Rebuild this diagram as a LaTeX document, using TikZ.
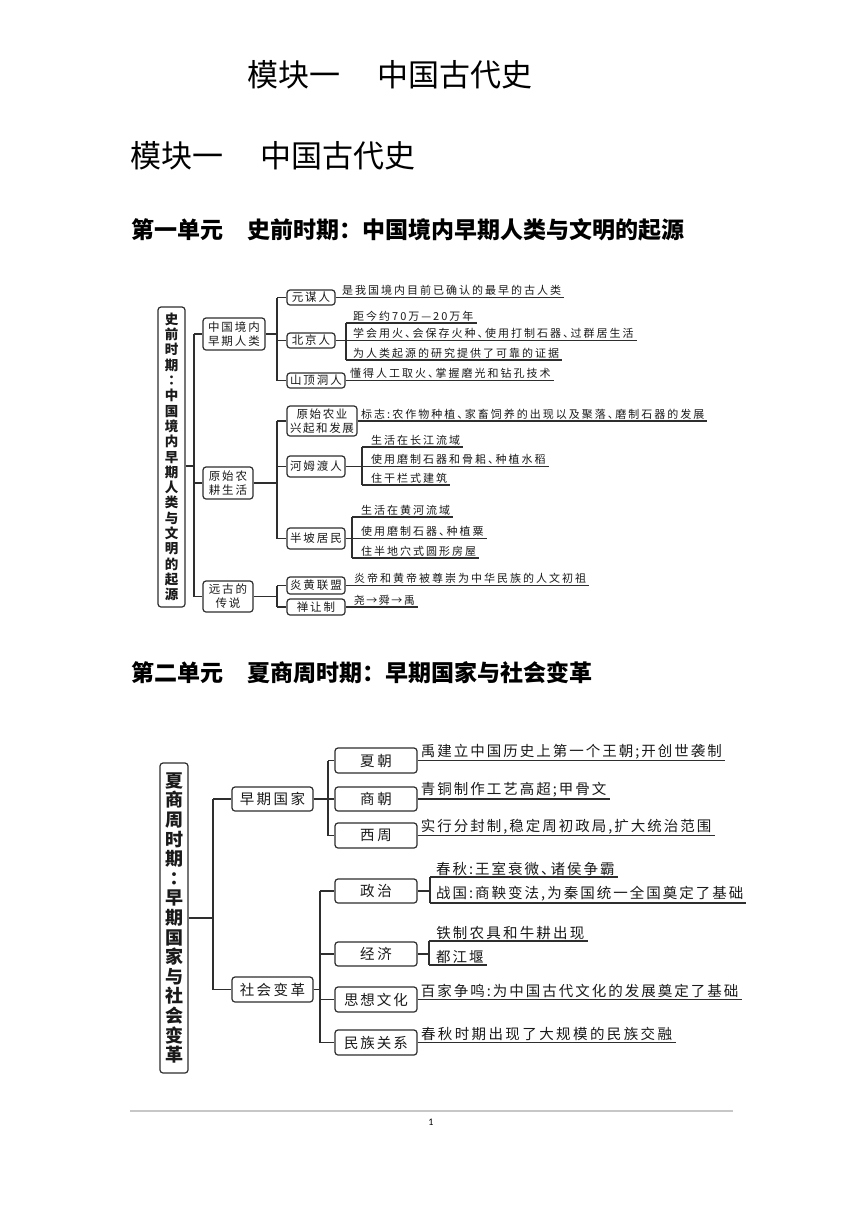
\documentclass[tikz,border=0pt]{standalone}
\usepackage{fontspec}
\setmainfont{Noto Sans CJK SC}
\newfontfamily\tcf{Noto Sans CJK TC}
\newfontfamily\numf{Carlito}
\newdimen\lsk
\def\lsaux#1{\ifx\relax#1\else\kern\lsk\relax#1\kern\lsk\relax\expandafter\lsaux\fi}
\newcommand\LS[2]{\lsk=#1\relax\lsaux#2\relax}
\newcommand\dna{、\kern-5.5pt}
\newcommand\dnb{、\kern-7pt}
\definecolor{lc}{HTML}{2E2E2E}
\definecolor{tc}{HTML}{1A1A1A}
\tikzset{
  box/.style={draw=lc, line width=1.2pt, rounded corners=3pt, fill=white, inner sep=0pt, align=center, text=tc},
  rootone/.style={box, font=\bfseries\fontsize{13.5}{15.3}\selectfont},
  roottwo/.style={box, font=\bfseries\fontsize{18}{19.6}\selectfont},
  bone/.style={box, font=\fontsize{11.5}{14}\selectfont},
  btwo/.style={box, font=\fontsize{14.5}{16}\selectfont},
  done/.style={anchor=south west, inner xsep=2pt, inner ysep=1.5pt, text=tc, font=\fontsize{11}{12}\selectfont},
  dtwo/.style={anchor=south west, inner xsep=2pt, inner ysep=1.5pt, text=tc, font=\fontsize{14.5}{16}\selectfont},
  ln/.style={draw=lc, line width=1.15pt},
  ttl/.style={anchor=west, inner sep=0pt, text=black, font=\fontsize{31}{31}\selectfont},
  unit/.style={anchor=west, inner sep=0pt, text=black, font=\bfseries\fontsize{23}{23}\selectfont}
}
\begin{document}
\begin{tikzpicture}[x=1pt, y=-1pt]
\useasboundingbox[fill=white] (0,0) rectangle (860,1216);

% ---------- titles ----------
\node[ttl] (h0) at (247,75) {模块一\hspace{37pt}中国古代史};
\node[ttl] (h1) at (130,156) {模块一\hspace{37pt}中国古代史};
\node[unit] (u1) at (131,230) {第一单元\hspace{24pt}史前时期：中国境内早期人类与文明的起源};
\node[unit] (u2) at (131,673) {第二单元\hspace{24pt}夏商周时期：早期国家与社会变革};

% ---------- diagram 1 ----------
\node[rootone, minimum width=27, minimum height=300] (r1) at (171.5,457)
  {史\\前\\时\\期\\{\tcf ：}\\中\\国\\境\\内\\早\\期\\人\\类\\与\\文\\明\\的\\起\\源};
\coordinate (s1) at (194,466);
\node[bone, minimum width=62, minimum height=32] (a1) at (234,334) {\LS{1pt}{中国境内}\\\LS{1pt}{早期人类}};
\node[bone, minimum width=50, minimum height=32] (a2) at (228,483) {\LS{1pt}{原始农}\\\LS{1pt}{耕生活}};
\node[bone, minimum width=50, minimum height=31] (a3) at (228,596.5) {\LS{1pt}{远古的}\\\LS{1pt}{传说}};
\draw[ln] (r1.east |- s1) -- (s1);
\draw[ln] (s1 |- a1.west) -- (s1 |- a3.west);
\foreach \n in {a1,a2,a3} \draw[ln] (s1 |- \n.west) -- (\n.west);

\coordinate (k) at (277,0);
% group a1
\node[bone, minimum width=48, minimum height=15] (y1) at (311,297.5) {\LS{1pt}{元谋人}};
\node[bone, minimum width=48, minimum height=15] (y2) at (311,340.5) {\LS{1pt}{北京人}};
\node[bone, minimum width=58, minimum height=15] (y3) at (316,380.5) {\LS{1pt}{山顶洞人}};
\draw[ln] (a1.east) -- (k |- a1.east);
\draw[ln] (k |- y1.west) -- (k |- y3.west);
\foreach \n in {y1,y2,y3} \draw[ln] (k |- \n.west) -- (\n.west);

\node[done] (y1t) at (339,297.5) {\LS{1pt}{是我国境内目前已确认的最早的古人类}};
\draw[ln] (y1.east) -- (y1t.south east);
\coordinate (y2j) at (346,340.5);
\draw[ln] (y2.east) -- (y2j);
\node[done] (y2a) at (350,323) {\LS{1pt}{距今约70万—20万年}};
\node[done] (y2b) at (350,340.5) {\LS{1pt}{学会用火\dna 会保存火种\dna 使用打制石器\dna 过群居生活}};
\node[done] (y2c) at (350,360) {\LS{1pt}{为人类起源的研究提供了可靠的证据}};
\draw[ln] (y2j |- y2a.south) -- (y2j |- y2c.south);
\foreach \n in {y2a,y2b,y2c} \draw[ln] (y2j |- \n.south) -- (\n.south east);
\node[done] (y3t) at (347,380.5) {\LS{1pt}{懂得人工取火\dna 掌握磨光和钻孔技术}};
\draw[ln] (y3.east) -- (y3t.south east);

% group a2
\node[bone, minimum width=70, minimum height=30] (n1) at (322,421) {\LS{0.8pt}{原始农业}\\\LS{0.8pt}{兴起和发展}};
\node[bone, minimum width=58, minimum height=21] (n2) at (316,466.5) {\LS{1pt}{河姆渡人}};
\node[bone, minimum width=58, minimum height=21] (n3) at (316,538.5) {\LS{1pt}{半坡居民}};
\draw[ln] (a2.east) -- (k |- a2.east);
\draw[ln] (k |- n1.west) -- (k |- n3.west);
\foreach \n in {n1,n2,n3} \draw[ln] (k |- \n.west) -- (\n.west);

\node[done] (n1t) at (358,421) {\LS{1pt}{标志:农作物种植\dna 家畜饲养的出现以及聚落\dna 磨制石器的发展}};
\draw[ln] (n1.east) -- (n1t.south east);
\coordinate (n2j) at (362,466.5);
\draw[ln] (n2.east) -- (n2j);
\node[done] (n2a) at (368,447) {\LS{1pt}{生活在长江流域}};
\node[done] (n2b) at (368,466.5) {\LS{1pt}{使用磨制石器和骨耜\dna 种植水稻}};
\node[done] (n2c) at (368,485) {\LS{1pt}{住干栏式建筑}};
\draw[ln] (n2j |- n2a.south) -- (n2j |- n2c.south);
\foreach \n in {n2a,n2b,n2c} \draw[ln] (n2j |- \n.south) -- (\n.south east);
\coordinate (n3j) at (352,538.5);
\draw[ln] (n3.east) -- (n3j);
\node[done] (n3a) at (358,517) {\LS{1pt}{生活在黄河流域}};
\node[done] (n3b) at (358,538.5) {\LS{1pt}{使用磨制石器\dna 种植粟}};
\node[done] (n3c) at (358,558) {\LS{1pt}{住半地穴式圆形房屋}};
\draw[ln] (n3j |- n3a.south) -- (n3j |- n3c.south);
\foreach \n in {n3a,n3b,n3c} \draw[ln] (n3j |- \n.south) -- (\n.south east);

% group a3
\node[bone, minimum width=58, minimum height=17] (m1) at (316,585.5) {\LS{1pt}{炎黄联盟}};
\node[bone, minimum width=58, minimum height=16] (m2) at (316,607) {\LS{1pt}{禅让制}};
\draw[ln] (a3.east) -- (k |- a3.east);
\draw[ln] (k |- m1.west) -- (k |- m2.west);
\foreach \n in {m1,m2} \draw[ln] (k |- \n.west) -- (\n.west);
\node[done] (m1t) at (351,585.5) {\LS{1pt}{炎帝和黄帝被尊崇为中华民族的人文初祖}};
\draw[ln] (m1.east) -- (m1t.south east);
\node[done] (m2t) at (351,607) {\LS{0.75pt}{尧→舜→禹}};
\draw[ln] (m2.east) -- (m2t.south east);

% ---------- diagram 2 ----------
\node[roottwo, minimum width=28, minimum height=310] (r2) at (174,918)
  {夏\\商\\周\\时\\期\\{\tcf ：}\\早\\期\\国\\家\\与\\社\\会\\变\\革};
\coordinate (s2) at (213,917);
\node[btwo, minimum width=81, minimum height=24] (p1) at (272.5,799) {\LS{1.25pt}{早期国家}};
\node[btwo, minimum width=81, minimum height=25] (p2) at (272.5,989.5) {\LS{1.25pt}{社会变革}};
\draw[ln] (r2.east) -- (s2 |- r2.east);
\draw[ln] (s2 |- p1.west) -- (s2 |- p2.west);
\foreach \n in {p1,p2} \draw[ln] (s2 |- \n.west) -- (\n.west);

\coordinate (q1) at (328,0);
\node[btwo, minimum width=82, minimum height=25] (x1) at (376,760.5) {\LS{1.5pt}{夏朝}};
\node[btwo, minimum width=82, minimum height=24] (x2) at (376,799) {\LS{1.5pt}{商朝}};
\node[btwo, minimum width=82, minimum height=25] (x3) at (376,835.5) {\LS{1.5pt}{西周}};
\draw[ln] (p1.east) -- (q1 |- p1.east);
\draw[ln] (q1 |- x1.west) -- (q1 |- x3.west);
\foreach \n in {x1,x2,x3} \draw[ln] (q1 |- \n.west) -- (\n.west);
\node[dtwo] (x1t) at (x1.east) {\LS{1pt}{禹建立中国历史上第一个王朝;开创世袭制}};
\node[dtwo] (x2t) at (x2.east) {\LS{1pt}{青铜制作工艺高超;甲骨文}};
\node[dtwo] (x3t) at (x3.east) {\LS{1pt}{实行分封制,稳定周初政局,扩大统治范围}};
\foreach \n in {x1,x2,x3} \draw[ln] (\n.east) -- (\n t.south east);

\coordinate (q2) at (320,0);
\node[btwo, minimum width=82, minimum height=24] (z1) at (376,891) {\LS{1.5pt}{政治}};
\node[btwo, minimum width=82, minimum height=24] (z2) at (376,954) {\LS{1.5pt}{经济}};
\node[btwo, minimum width=82, minimum height=25] (z3) at (376,999.5) {\LS{1pt}{思想文化}};
\node[btwo, minimum width=82, minimum height=25] (z4) at (376,1042.5) {\LS{1pt}{民族关系}};
\draw[ln] (p2.east) -- (q2 |- p2.east);
\draw[ln] (q2 |- z1.west) -- (q2 |- z4.west);
\foreach \n in {z1,z2,z3,z4} \draw[ln] (q2 |- \n.west) -- (\n.west);

\coordinate (z1j) at (430,891);
\draw[ln] (z1.east) -- (z1j);
\node[dtwo] (z1a) at (433,877) {\LS{1pt}{春秋:王室衰微\dnb 诸侯争霸}};
\node[dtwo] (z1b) at (433,903) {\LS{1pt}{战国:商鞅变法,为秦国统一全国奠定了基础}};
\draw[ln] (z1j |- z1a.south) -- (z1j |- z1b.south);
\foreach \n in {z1a,z1b} \draw[ln] (z1j |- \n.south) -- (\n.south east);
\coordinate (z2j) at (429,954);
\draw[ln] (z2.east) -- (z2j);
\node[dtwo] (z2a) at (433,941) {\LS{1.1pt}{铁制农具和牛耕出现}};
\node[dtwo] (z2b) at (433,965) {\LS{1pt}{都江堰}};
\draw[ln] (z2j |- z2a.south) -- (z2j |- z2b.south);
\foreach \n in {z2a,z2b} \draw[ln] (z2j |- \n.south) -- (\n.south east);
\node[dtwo] (z3t) at (z3.east) {\LS{1pt}{百家争鸣:为中国古代文化的发展奠定了基础}};
\node[dtwo] (z4t) at (z4.east) {\LS{1.2pt}{春秋时期出现了大规模的民族交融}};
\foreach \n in {z3,z4} \draw[ln] (\n.east) -- (\n t.south east);

% ---------- footer ----------
\coordinate (fl) at (130,1111);
\coordinate (fr) at (733,1111);
\draw[draw=black!22, line width=1.6pt] (fl) -- (fr);
\node[font=\numf\fontsize{10}{10}\selectfont, inner sep=0pt] (pg) at (431,1122) {1};
\end{tikzpicture}
\end{document}
